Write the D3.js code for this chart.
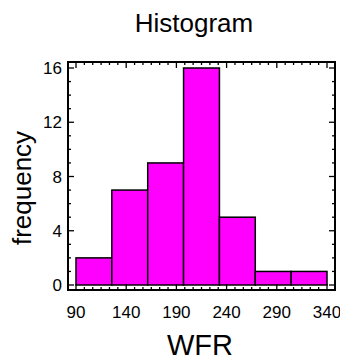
<!DOCTYPE html>
<html><head><meta charset="utf-8">
<script src="https://cdn.jsdelivr.net/npm/d3@7"></script>
<style>body{margin:0;background:#fff}svg{display:block}text{font-family:"Liberation Sans",Arial,sans-serif;fill:#000}</style>
</head><body>
<script>
const binEdges = [90, 125.71, 161.43, 197.14, 232.86, 268.57, 304.29, 340];
const counts = [2, 7, 9, 16, 5, 1, 1];
const xTicks = [90, 140, 190, 240, 290, 340];
const yTicks = [0, 4, 8, 12, 16];
const title = "Histogram", xLabel = "WFR", yLabel = "frequency";

const W = 340, H = 360;
const svg = d3.select("body").append("svg").attr("width", W).attr("height", H);
const x = d3.scaleLinear().domain([90, 340]).range([76, 327]);
const y = d3.scaleLinear().domain([0, 16]).range([285, 68]);
const box = {l: 68, r: 335, t: 62, b: 290};

const bins = counts.map((c, i) => ({x0: binEdges[i], x1: binEdges[i + 1], c}));
svg.append("g").selectAll("rect").data(bins).join("rect")
  .attr("x", d => x(d.x0)).attr("width", d => x(d.x1) - x(d.x0))
  .attr("y", d => y(d.c)).attr("height", d => y(0) - y(d.c))
  .attr("fill", "#ff00ff").attr("stroke", "#000").attr("stroke-width", 1.5);

svg.append("rect").attr("x", box.l).attr("y", box.t).attr("width", box.r - box.l).attr("height", box.b - box.t)
  .attr("fill", "none").attr("stroke", "#000").attr("stroke-width", 2);

// minor ticks
const xMinor = d3.range(0, 31).map(i => 90 + i * 50 / 6).filter(v => v <= 340.01 && x(v) > box.l);
const yMinor = d3.range(0, 17);
const tg = svg.append("g").attr("stroke", "#000").attr("stroke-width", 1.3);
xMinor.forEach(v => {
  const maj = xTicks.some(t => Math.abs(t - v) < 0.01);
  const len = maj ? 6 : 3;
  tg.append("line").attr("x1", x(v)).attr("x2", x(v)).attr("y1", box.b).attr("y2", box.b - len);
  tg.append("line").attr("x1", x(v)).attr("x2", x(v)).attr("y1", box.t).attr("y2", box.t + len);
});
yMinor.forEach(v => {
  const maj = yTicks.includes(v);
  const len = maj ? 6 : 3;
  tg.append("line").attr("y1", y(v)).attr("y2", y(v)).attr("x1", box.l).attr("x2", box.l + len);
  tg.append("line").attr("y1", y(v)).attr("y2", y(v)).attr("x1", box.r).attr("x2", box.r - len);
});

svg.append("g").selectAll("text").data(xTicks).join("text")
  .attr("x", d => x(d)).attr("y", 318).attr("text-anchor", "middle").attr("font-size", 17).text(d => d);
svg.append("g").selectAll("text").data(yTicks).join("text")
  .attr("x", 62).attr("y", d => y(d) + 6).attr("text-anchor", "end").attr("font-size", 17).text(d => d);

svg.append("text").attr("x", 194).attr("y", 32).attr("text-anchor", "middle").attr("font-size", 26).text(title);
svg.append("text").attr("x", 200).attr("y", 355).attr("text-anchor", "middle").attr("font-size", 29).text(xLabel);
svg.append("text").attr("transform", "translate(31,188) rotate(-90)").attr("text-anchor", "middle").attr("font-size", 26).text(yLabel);
</script>
</body></html>
